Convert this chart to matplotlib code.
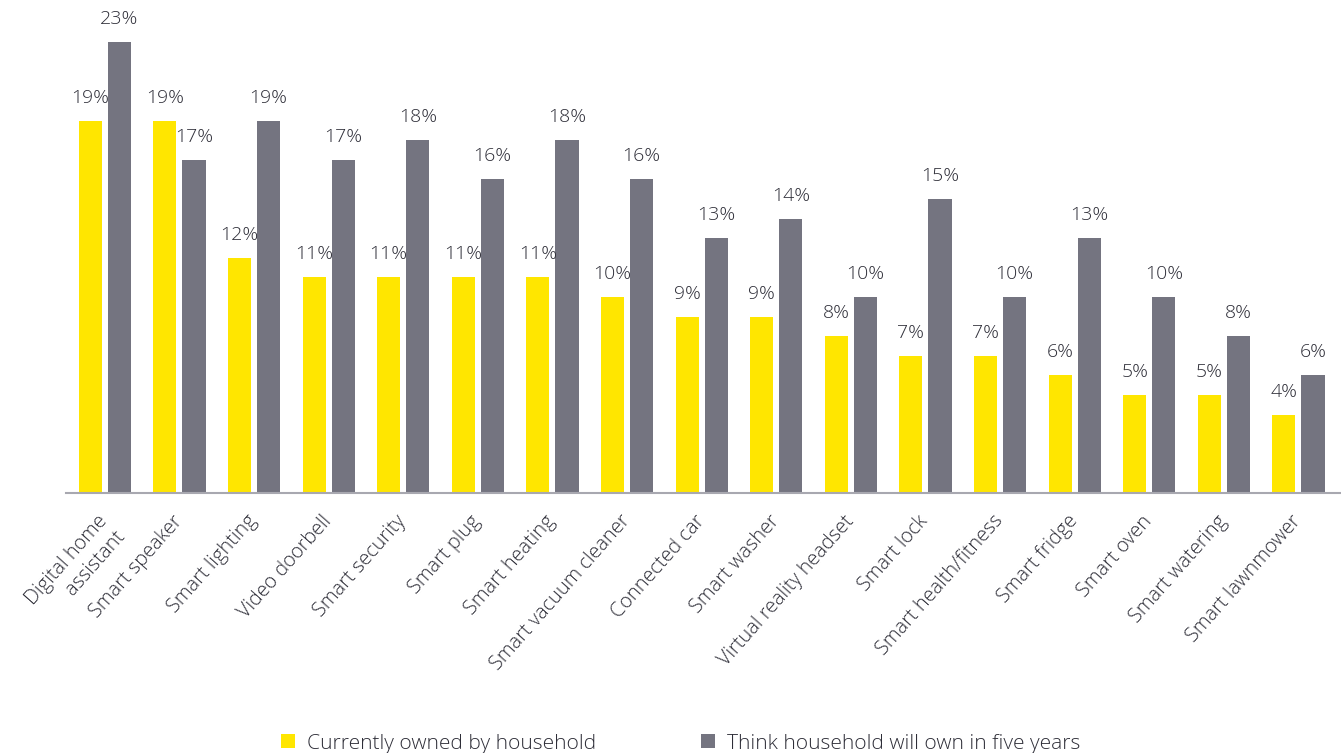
import numpy as np
import matplotlib.pyplot as plt
from matplotlib.transforms import ScaledTranslation

plt.rcParams['font.family'] = ['Open Sans', 'DejaVu Sans']
plt.rcParams['font.weight'] = 'light'

categories = ["Digital home\nassistant", "Smart speaker", "Smart lighting", "Video doorbell",
              "Smart security", "Smart plug", "Smart heating", "Smart vacuum cleaner",
              "Connected car", "Smart washer", "Virtual reality headset", "Smart lock",
              "Smart health/fitness", "Smart fridge", "Smart oven", "Smart watering",
              "Smart lawnmower"]
owned_now = [19, 19, 12, 11, 11, 11, 11, 10, 9, 9, 8, 7, 7, 6, 5, 5, 4]
own_in_five = [23, 17, 19, 17, 18, 16, 18, 16, 13, 14, 10, 15, 10, 13, 10, 8, 6]

yellow = "#FFE600"
grey = "#747480"
txt = "#2e2e38"

fig = plt.figure(figsize=(13.41, 7.53), dpi=100)
ax = fig.add_axes([0.049, 0.3453, 0.951, 0.6547])

x = np.arange(len(categories))
w = 0.31
off = 0.195
b1 = ax.bar(x - off, owned_now, w, color=yellow, label="Currently owned by household")
b2 = ax.bar(x + off, own_in_five, w, color=grey, label="Think household will own in five years")

for bars, vals in ((b1, owned_now), (b2, own_in_five)):
    for r, v in zip(bars, vals):
        ax.annotate(f"{v}%", (r.get_x() + r.get_width() / 2, v),
                    xytext=(0, 10), textcoords="offset points",
                    ha="center", va="bottom", fontsize=14, color=txt)

ax.set_xlim(-0.525, 16.57)
ax.set_ylim(0, 25.15)
ax.set_xticks(x)
ax.set_xticklabels(categories, rotation=48.5, ha="right", rotation_mode="anchor",
                   fontsize=14.4, color=txt, multialignment="right")
ax.tick_params(axis="x", length=0, pad=11)
shift = ScaledTranslation(-8 / 100, -3 / 100, fig.dpi_scale_trans)
for lab in ax.get_xticklabels():
    lab.set_transform(lab.get_transform() + shift)
ax.set_yticks([])
for s in ("top", "right", "left"):
    ax.spines[s].set_visible(False)
ax.spines["bottom"].set_color("#a8a8b0")
ax.spines["bottom"].set_linewidth(1.5)

leg = fig.legend(handles=[b1, b2], loc="lower center", bbox_to_anchor=(0.5075, -0.026),
                 ncol=2, frameon=False, fontsize=15.1, handlelength=0.67, handleheight=0.67,
                 handletextpad=0.57, columnspacing=5.0)
for t in leg.get_texts():
    t.set_color(txt)

fig.savefig("out.png", dpi=100)
